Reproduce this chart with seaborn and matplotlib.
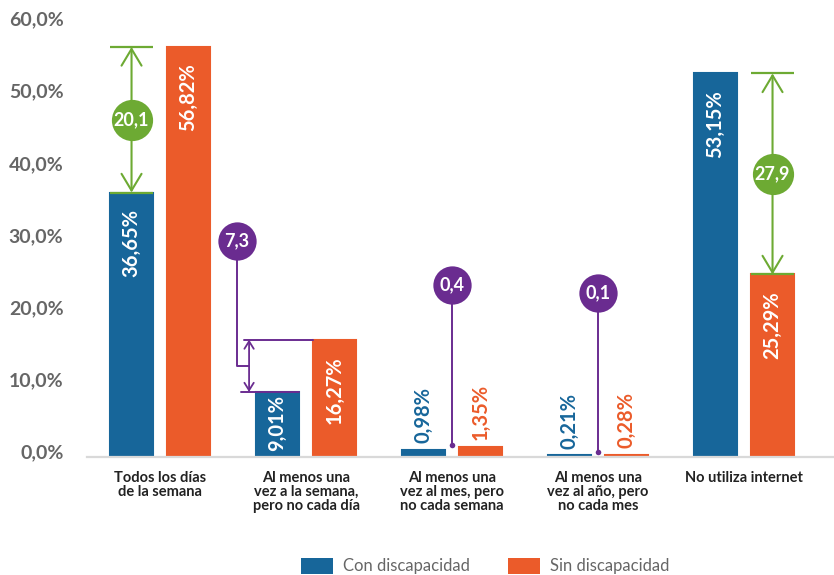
import matplotlib
matplotlib.use("Agg")
import matplotlib.pyplot as plt
import matplotlib.transforms as mtransforms
from matplotlib.patches import Patch
import seaborn as sns
import pandas as pd

# ---------------- data ----------------
categorias = [
    "Todos los días\nde la semana",
    "Al menos una\nvez a la semana,\npero no cada día",
    "Al menos una\nvez al mes, pero\nno cada semana",
    "Al menos una\nvez al año, pero\nno cada mes",
    "No utiliza internet",
]
grupos = ["Con discapacidad", "Sin discapacidad"]
con_discapacidad = [36.65, 9.01, 0.98, 0.21, 53.15]
sin_discapacidad = [56.82, 16.27, 1.35, 0.28, 25.29]
brechas = ["20,1", "7,3", "0,4", "0,1", "27,9"]
y_ticks = [0, 10, 20, 30, 40, 50, 60]

# ---------------- style ----------------
AZUL = "#17669A"
NARANJA = "#EB5B2A"
VERDE = "#6DAA33"
MORADO = "#6A2C90"
GRIS = "#666666"
OSCURO = "#222222"
FONT = ["Lato", "DejaVu Sans"]

sns.set_theme(style="white")
plt.rcParams["font.family"] = FONT

df = pd.DataFrame({
    "categoria": categorias * 2,
    "grupo": [grupos[0]] * len(categorias) + [grupos[1]] * len(categorias),
    "valor": con_discapacidad + sin_discapacidad,
})

fig = plt.figure(figsize=(8.34, 5.75), dpi=100)
ax = fig.add_axes([87 / 834, 1 - 457 / 575, 1 - 87 / 834, (457 - 24) / 575])

sns.barplot(data=df, x="categoria", y="valor", hue="grupo", order=categorias,
            hue_order=grupos, palette=[AZUL, NARANJA], width=0.78, gap=0.245,
            saturation=1, legend=False, ax=ax, errorbar=None, linewidth=1.5)
for cont, color in zip(ax.containers, [AZUL, NARANJA]):
    for bar in cont:
        bar.set_edgecolor(color)
        bar.set_linewidth(1.5)

ax.set_xlim(-0.5, 4.616)
ax.set_ylim(0, 60)
ax.set_xlabel("")
ax.set_ylabel("")
ax.set_yticks(y_ticks)
ax.set_yticklabels([f"{v:.1f}".replace(".", ",") + "%" for v in y_ticks],
                   fontsize=14, fontweight="bold", color=GRIS)
ax.set_xticks(range(len(categorias)))
ax.set_xticklabels(categorias, fontsize=10.5, fontweight="bold", color=OSCURO,
                   linespacing=1.0, va="top")
ax.tick_params(axis="both", length=0)
ax.tick_params(axis="x", pad=10)
ax.tick_params(axis="y", pad=17)
for lab in ax.get_yticklabels():
    lab.set_transform(lab.get_transform() + mtransforms.ScaledTranslation(0, 4 / 72, fig.dpi_scale_trans))
    lab.set_horizontalalignment("right")
for s in ["top", "right", "left"]:
    ax.spines[s].set_visible(False)
ax.spines["bottom"].set_color("#D9D9D9")
ax.spines["bottom"].set_linewidth(1.6)
ax.spines["bottom"].set_zorder(5)
ax.grid(False)

# ---------------- value labels ----------------
px_per_unit = (457 - 24) / 60.0   # pixels per percentage point (dpi 100)
colores = [AZUL, NARANJA]
for cont, color in zip(ax.containers, colores):
    for bar in cont:
        v = bar.get_height()
        x = bar.get_x() + bar.get_width() / 2
        txt = f"{v:.2f}".replace(".", ",") + "%"
        if v > 5:
            if v * px_per_unit > 95:
                ax.annotate(txt, (x, v), xytext=(0, -12), textcoords="offset points",
                            rotation=90, ha="center", va="top", color="white",
                            fontsize=14.5, fontweight="bold")
            else:
                ax.annotate(txt, (x, 0), xytext=(0, 4), textcoords="offset points",
                            rotation=90, ha="center", va="bottom", color="white",
                            fontsize=14.5, fontweight="bold")
        else:
            ax.annotate(txt, (x, v), xytext=(0, 5), textcoords="offset points",
                        rotation=90, ha="center", va="bottom", color=color,
                        fontsize=14.5, fontweight="bold")

blue_bars = list(ax.containers[0])
orange_bars = list(ax.containers[1])


def bar_cx(b):
    return b.get_x() + b.get_width() / 2


def green_gap(i, on_bar):
    lo = min(con_discapacidad[i], sin_discapacidad[i])
    hi = max(con_discapacidad[i], sin_discapacidad[i])
    x = bar_cx(on_bar)
    x0, x1 = on_bar.get_x(), on_bar.get_x() + on_bar.get_width()
    for yv in (lo, hi):
        ax.plot([x0, x1], [yv, yv], color=VERDE, lw=1.6, solid_capstyle="butt", zorder=4)
    ax.annotate("", xy=(x, hi), xytext=(x, lo),
                arrowprops=dict(arrowstyle="<->,head_length=1.0,head_width=0.6",
                                color=VERDE, lw=1.5, shrinkA=0, shrinkB=0), zorder=4)
    ym = (lo + hi) / 2
    ax.scatter([x], [ym], s=880, color=VERDE, zorder=5, linewidths=0)
    ax.text(x, ym, brechas[i], color="white", fontsize=13, fontweight="bold",
            ha="center", va="center", zorder=6)


green_gap(0, blue_bars[0])
green_gap(4, orange_bars[4])

# purple callout for group 1
i = 1
lo, hi = con_discapacidad[i], sin_discapacidad[i]
circ_x, circ_y = 0.527, 30.0
arr_x = 0.61
ax.plot([0.575, orange_bars[i].get_x()], [hi, hi], color=MORADO, lw=1.4, zorder=4)
ax.plot([0.555, blue_bars[i].get_x() + blue_bars[i].get_width()], [lo, lo], color=MORADO, lw=1.4, zorder=4)
ax.annotate("", xy=(arr_x, hi), xytext=(arr_x, lo),
            arrowprops=dict(arrowstyle="<->,head_length=0.45,head_width=0.28",
                            color=MORADO, lw=1.3, shrinkA=0, shrinkB=0), zorder=4)
ym = (lo + hi) / 2
ax.plot([circ_x, circ_x, arr_x], [circ_y, ym, ym], color=MORADO, lw=1.4, zorder=4)
ax.scatter([circ_x], [circ_y], s=760, color=MORADO, zorder=5, linewidths=0)
ax.text(circ_x, circ_y, brechas[i], color="white", fontsize=13, fontweight="bold",
        ha="center", va="center", zorder=6)

# purple lollipops for groups 2 and 3
for i, (cy, dot_y) in zip([2, 3], [(23.8, 1.6), (22.7, 0.7)]):
    ax.plot([i, i], [dot_y, cy], color=MORADO, lw=1.4, zorder=4)
    ax.scatter([i], [dot_y], s=16, color=MORADO, zorder=5, linewidths=0)
    ax.scatter([i], [cy], s=760, color=MORADO, zorder=5, linewidths=0)
    ax.text(i, cy, brechas[i], color="white", fontsize=13, fontweight="bold",
            ha="center", va="center", zorder=6)

# ---------------- legend ----------------
handles = [Patch(facecolor=AZUL, edgecolor="none"), Patch(facecolor=NARANJA, edgecolor="none")]
fig.legend(handles, grupos, loc="center", bbox_to_anchor=(485 / 834, 1 - 566 / 575),
           ncol=2, frameon=False, fontsize=12, handlelength=1.9, handleheight=1.1,
           handletextpad=0.6, columnspacing=2.3, labelcolor=GRIS)

fig.savefig("out.png", dpi=100)
